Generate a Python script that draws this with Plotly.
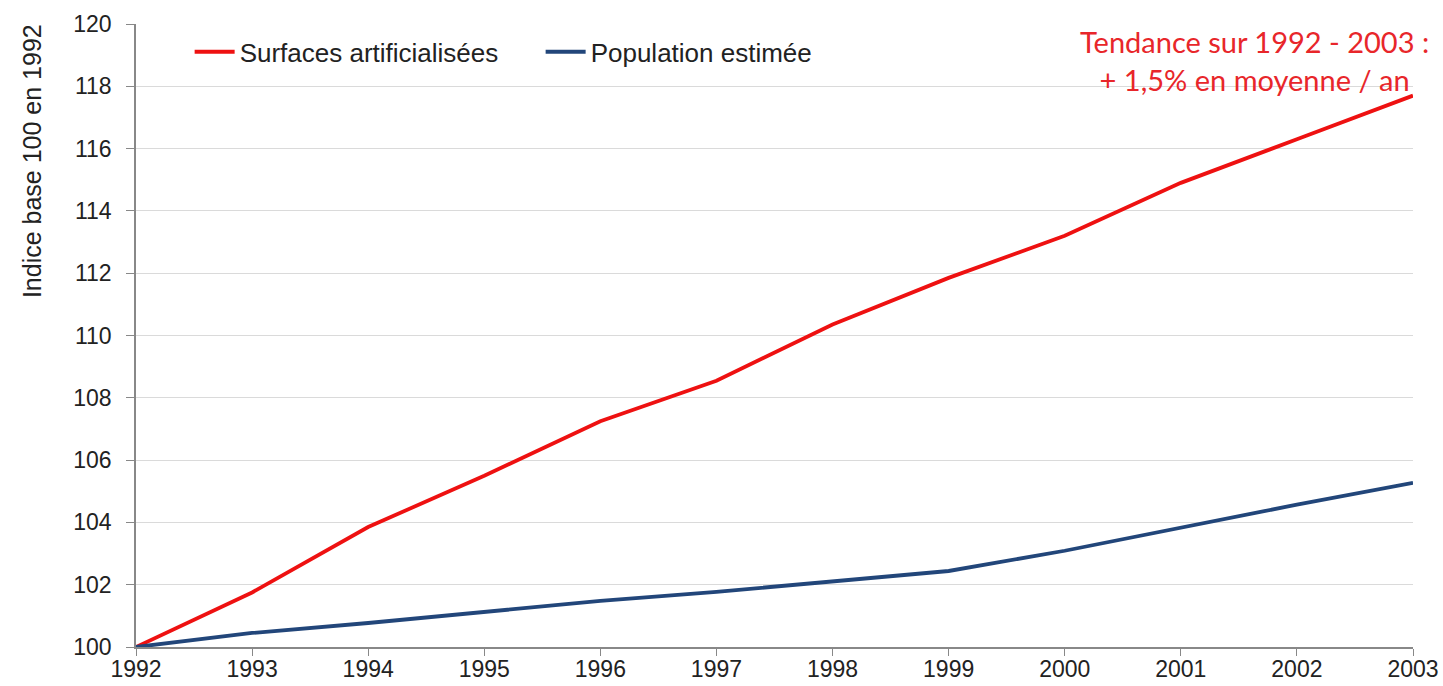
import plotly.graph_objects as go

years = list(range(1992, 2004))
surfaces = [100, 101.75, 103.85, 105.5, 107.25, 108.55, 110.35, 111.85, 113.2, 114.9, 116.3, 117.7]
population = [100, 100.45, 100.77, 101.12, 101.48, 101.77, 102.12, 102.44, 103.09, 103.83, 104.57, 105.27]

name_surf = "Surfaces artificialisées"
name_pop = "Population estimée"
y_title = "Indice base 100 en 1992"
trend_text = "Tendance sur 1992 - 2003 :<br>+ 1,5% en moyenne / an"

fig = go.Figure()
fig.add_trace(go.Scatter(x=years, y=surfaces, mode="lines", name=name_surf,
                         line=dict(color="#ee1111", width=3.8)))
fig.add_trace(go.Scatter(x=years, y=population, mode="lines", name=name_pop,
                         line=dict(color="#22467a", width=3.8)))

sans = "Liberation Sans, Arial, sans-serif"
axis_font = dict(family=sans, size=23, color="#222222")

fig.update_layout(
    width=1443, height=686,
    margin=dict(l=136, r=30, t=24, b=39),
    paper_bgcolor="white", plot_bgcolor="white",
    showlegend=True,
    legend=dict(orientation="h", x=0.042, y=0.993, xanchor="left", yanchor="top",
                font=dict(family=sans, size=26, color="#222222"),
                bgcolor="rgba(0,0,0,0)", itemwidth=40, entrywidth=296,
                entrywidthmode="pixels", tracegroupgap=0),
    xaxis=dict(range=[1992, 2003], tickmode="array", tickvals=years,
               ticktext=[str(y) for y in years], showgrid=False,
               showline=True, linecolor="#888888", linewidth=1.5,
               ticks="outside", ticklen=7, tickcolor="#888888",
               tickfont=axis_font, zeroline=False, automargin=False,
               ticklabelstandoff=-6),
    yaxis=dict(range=[100, 120], dtick=2, showgrid=True, gridcolor="#dadada",
               gridwidth=1.2, showline=True, linecolor="#888888", linewidth=1.5,
               ticks="outside", ticklen=8, tickcolor="#888888",
               tickfont=axis_font, zeroline=False, automargin=False,
               ticklabelstandoff=10),
    annotations=[
        dict(text=trend_text, xref="paper", yref="paper", x=0.876, y=1.004,
             xanchor="center", yanchor="top", align="center", showarrow=False,
             font=dict(family="Lato, Open Sans, sans-serif", size=29, color="#e8262a")),
        dict(text=y_title, xref="paper", yref="paper", x=-0.0814, y=0.780,
             xanchor="center", yanchor="middle", textangle=-90, showarrow=False,
             font=dict(family=sans, size=25, color="#222222")),
    ],
)

fig.write_html("out.html")
